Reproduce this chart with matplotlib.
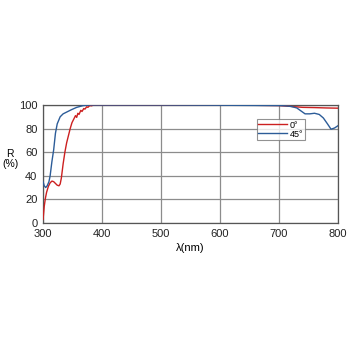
import matplotlib
matplotlib.use("Agg")
import matplotlib.pyplot as plt

plt.rcParams["font.family"] = ["Liberation Sans", "DejaVu Sans"]

# 0 deg incidence (red)
wl_0 = [300, 302, 304, 306, 309, 312, 315, 318, 321, 324, 327, 329, 331, 334, 337,
        340, 343, 346, 349, 352, 355, 357, 359, 361, 364, 366, 369, 371, 374, 376,
        379, 382, 386, 400, 500, 600, 650, 700, 720, 740, 760, 780, 800]
r_0 = [3, 14, 21, 26, 31, 34, 35.5, 35, 33.5, 32, 31.5, 33, 38, 50, 60,
       68, 74, 80, 85, 88, 91, 89.5, 93, 92, 95.5, 94.5, 97, 96.5, 98.5, 98,
       99.5, 99.3, 100, 100, 100, 100, 99.8, 99.5, 98.8, 98, 97.8, 97.5, 97.3]

# 45 deg incidence (blue)
wl_45 = [300, 302, 304.5, 307, 310, 312, 315, 318, 321, 324, 329, 334, 340, 348,
         357, 368, 380, 390, 400, 500, 600, 700, 710, 720, 730, 737, 744, 752,
         760, 768, 775, 782, 788, 794, 800]
r_45 = [35, 31.5, 30, 31.5, 35, 40, 52, 62, 76, 84, 90, 92.5, 94, 96,
        98, 99.5, 100, 100, 100, 100, 99.8, 99.5, 99.3, 98.8, 97.5, 95, 92.5, 92.5,
        93, 92, 89, 84, 79.5, 80.5, 82.5]

x_ticks = [300, 400, 500, 600, 700, 800]
y_ticks = [0, 20, 40, 60, 80, 100]

fig = plt.figure(figsize=(3.5, 3.5), dpi=100)
ax = fig.add_axes([0.123, 0.363, 0.843, 0.337])

ax.plot(wl_0, r_0, color="#cc2020", lw=1.0, label="0°", zorder=3)
ax.plot(wl_45, r_45, color="#2c5c98", lw=1.0, label="45°", zorder=3)

ax.set_xlim(300, 800)
ax.set_ylim(0, 100)
ax.set_xticks(x_ticks)
ax.set_yticks(y_ticks)
ax.tick_params(length=0, labelsize=8, pad=4, colors="#222222")
ax.grid(True, color="#8c8c8c", lw=0.9)
for sp in ax.spines.values():
    sp.set_color("#555555")
    sp.set_linewidth(0.9)

ax.set_xlabel("λ(nm)", fontsize=8, labelpad=3)
fig.text(0.029, 0.545, "R\n(%)", fontsize=7.5, ha="center", va="center",
         linespacing=1.0)

leg = ax.legend(loc="upper left", bbox_to_anchor=(0.725, 0.88), fontsize=6.5,
                frameon=True, fancybox=False, handlelength=3.2,
                handletextpad=0.3, borderpad=0.15, labelspacing=0.0,
                borderaxespad=0)
leg.get_frame().set_edgecolor("#777777")
leg.get_frame().set_linewidth(0.8)

fig.savefig("out.png", dpi=100)
